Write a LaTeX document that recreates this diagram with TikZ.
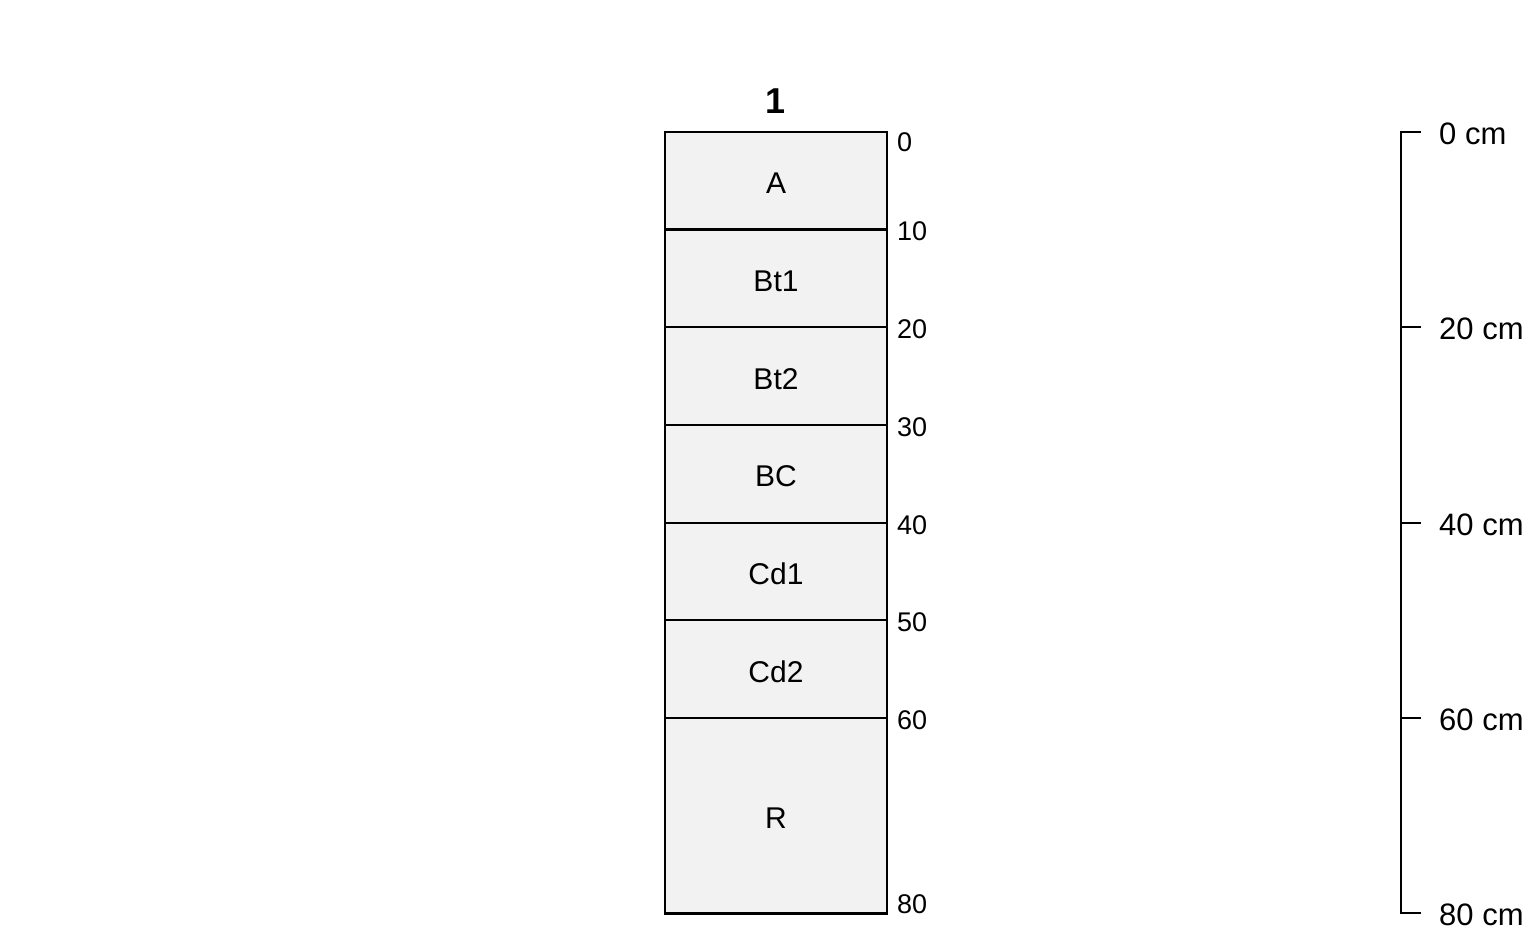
\documentclass[tikz,border=0pt]{standalone}
\usepackage{fontspec}
\setmainfont{Liberation Sans}
\usepackage{tikz}
\usetikzlibrary{positioning}
\tikzset{
  horizon/.style={draw, line width=2.1pt, fill=black!5, minimum width=222pt, inner sep=0pt, align=center, text height=26pt, text depth=0pt, font=\fontsize{30}{34}\selectfont},
  depthlabel/.style={anchor=west, inner sep=0pt, font=\fontsize{27}{30}\selectfont},
  scalelabel/.style={anchor=west, inner sep=0pt, font=\fontsize{31}{34}\selectfont},
  scaleline/.style={line width=2.1pt},
  profiletitle/.style={font=\fontsize{36}{40}\selectfont\bfseries, inner sep=0pt}
}

\begin{document}
\begin{tikzpicture}[x=1pt, y=-1pt]
  \useasboundingbox (0,0) rectangle (1536,950);
  % profile title
  \node[profiletitle] (title) at (776,101) {1};
  % horizons
  \node[horizon, minimum height=97.7pt] (A) at (776,180.6) {A};
  \node[horizon, minimum height=97.7pt] (Bt1) at (776,278.3) {Bt1};
  \node[horizon, minimum height=97.7pt] (Bt2) at (776,376.0) {Bt2};
  \node[horizon, minimum height=97.7pt] (BC) at (776,473.8) {BC};
  \node[horizon, minimum height=97.7pt] (Cd1) at (776,571.5) {Cd1};
  \node[horizon, minimum height=97.7pt] (Cd2) at (776,669.2) {Cd2};
  \node[horizon, minimum height=195.4pt] (R) at (776,815.8) {R};
  % depth labels
  \node[depthlabel] (d0) at (897,142) {0};
  \node[depthlabel] (d10) at (897,231.6) {10};
  \node[depthlabel] (d20) at (897,329.4) {20};
  \node[depthlabel] (d30) at (897,427.1) {30};
  \node[depthlabel] (d40) at (897,524.8) {40};
  \node[depthlabel] (d50) at (897,622.6) {50};
  \node[depthlabel] (d60) at (897,720.3) {60};
  \node[depthlabel] (d80) at (897,904) {80};
  % depth scale
  \coordinate (s0) at (1401,131.7);
  \coordinate (s80) at (1401,913.3);
  \draw[scaleline] ([xshift=20pt]s0) -- (s0) -- (s80) -- ([xshift=20pt]s80);
  \draw[scaleline] (1401,327.2) -- (1421,327.2);
  \draw[scaleline] (1401,522.6) -- (1421,522.6);
  \draw[scaleline] (1401,718.1) -- (1421,718.1);
  \node[scalelabel] (l0) at (1439,133.5) {0 cm};
  \node[scalelabel] (l20) at (1439,329.2) {20 cm};
  \node[scalelabel] (l40) at (1439,524.6) {40 cm};
  \node[scalelabel] (l60) at (1439,720.1) {60 cm};
  \node[scalelabel] (l80) at (1439,915.3) {80 cm};
\end{tikzpicture}
\end{document}
